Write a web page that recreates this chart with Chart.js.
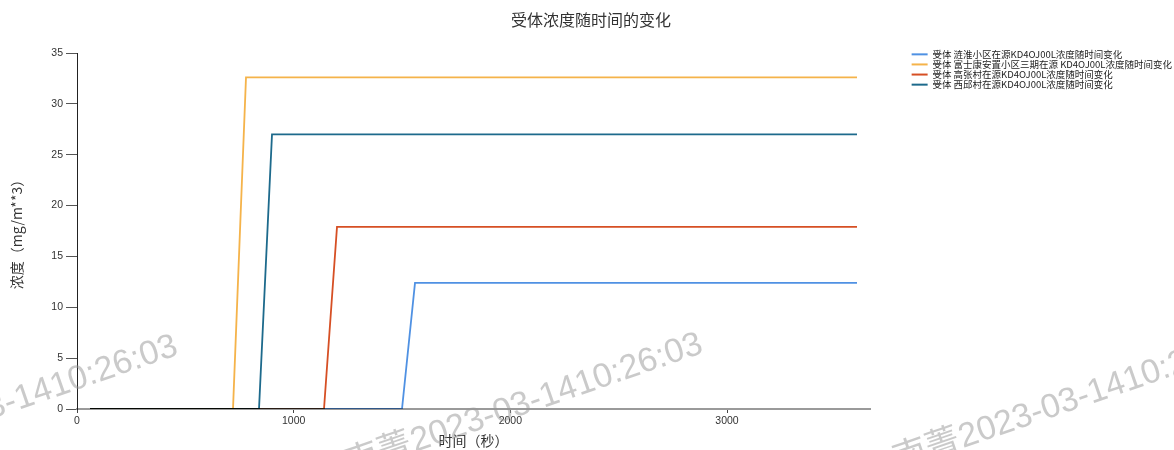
<!DOCTYPE html>
<html>
<head>
<meta charset="utf-8">
<title>受体浓度随时间的变化</title>
<script src="https://cdn.jsdelivr.net/npm/chart.js@4/dist/chart.umd.min.js"></script>
<style>
  html, body { margin: 0; padding: 0; background: #ffffff; }
  #wrap { width: 1174px; height: 450px; position: relative; }
</style>
</head>
<body>
<div id="wrap"><canvas id="chart" width="1174" height="450"></canvas></div>
<script>
// ---- data ----
const seriesNames = [
  '受体 涟淮小区在源KD4OJ00L浓度随时间变化',
  '受体 富士康安置小区三期在源 KD4OJ00L浓度随时间变化',
  '受体 高张村在源KD4OJ00L浓度随时间变化',
  '受体 西邱村在源KD4OJ00L浓度随时间变化'
];
const firstTime = 60;          // 秒
const lastTime = 3600;         // 秒
const riseStartTime = [1500, 720, 1140, 840];
const riseEndTime   = [1560, 780, 1200, 900];
const steadyConc    = [12.4, 32.6, 17.9, 27.0];   // mg/m**3

const xTickValues = [0, 1000, 2000, 3000];
const yTickValues = [0, 5, 10, 15, 20, 25, 30, 35];

const watermarkName = '南菁';
const watermarkStamp = '2023-03-1410:26:03';

// ---- styles ----
const lineColors = ['#4f91e3', '#f5b34a', '#d64f24', '#1d6a8c'];
const cjk = '"Noto Sans CJK SC", "Noto Sans", sans-serif';
const latin = '"Liberation Sans", Arial, sans-serif';
const rightSpace = 304;        // room kept right of the plot for the legend
const legendOverhang = -8;     // legend may run up to the canvas edge

function seriesPoints(i) {
  return [
    { x: firstTime, y: 0 },
    { x: riseStartTime[i], y: 0 },
    { x: riseEndTime[i], y: steadyConc[i] },
    { x: lastTime, y: steadyConc[i] }
  ];
}

const datasets = seriesNames.map((name, i) => ({
  label: name,
  data: seriesPoints(i),
  borderColor: lineColors[i],
  backgroundColor: lineColors[i],
  borderWidth: 1.8,
  pointRadius: 0,
  tension: 0,
  fill: false
}));

// lines blend with each other and with the axis where they overlap
const multiplyLines = {
  id: 'multiplyLines',
  beforeDatasetsDraw(chart) {
    chart.ctx.save();
    chart.ctx.globalCompositeOperation = 'multiply';
  },
  afterDatasetsDraw(chart) {
    chart.ctx.restore();
  }
};

const whiteBackground = {
  id: 'whiteBackground',
  beforeDraw(chart) {
    const ctx = chart.ctx;
    ctx.save();
    ctx.fillStyle = '#ffffff';
    ctx.fillRect(0, 0, chart.width, chart.height);
    ctx.restore();
  }
};

const stampOverlay = {
  id: 'stampOverlay',
  afterDraw(chart) {
    const ctx = chart.ctx;
    const anchors = [[-110, 454], [415, 452], [963, 448]];
    ctx.save();
    ctx.fillStyle = 'rgba(150,150,150,0.5)';
    anchors.forEach(([x, y]) => {
      ctx.save();
      ctx.translate(x, y);
      ctx.rotate(-19 * Math.PI / 180);
      ctx.textBaseline = 'alphabetic';
      ctx.font = '34px ' + latin;
      ctx.textAlign = 'left';
      ctx.fillText(watermarkStamp, 0, 0);
      ctx.font = '34px ' + cjk;
      ctx.textAlign = 'right';
      ctx.fillText(watermarkName, -1, 0);
      ctx.restore();
    });
    ctx.restore();
  }
};

new Chart(document.getElementById('chart'), {
  type: 'line',
  data: { datasets },
  plugins: [whiteBackground, multiplyLines, stampOverlay],
  options: {
    responsive: false,
    animation: false,
    events: [],
    layout: { padding: { left: 0, right: legendOverhang, top: 0, bottom: 0 } },
    plugins: {
      title: {
        display: true,
        text: '受体浓度随时间的变化',
        color: '#333333',
        font: { family: cjk, size: 16, weight: 'normal' },
        padding: { top: 10, bottom: 23.8 }
      },
      legend: {
        position: 'right',
        align: 'start',
        fullSize: true,
        title: {
          display: true,
          text: ' ',
          font: { family: cjk, size: 10 },
          padding: { top: 37, bottom: 0 }
        },
        labels: {
          boxWidth: 16,
          boxHeight: 2,
          padding: 0.6,
          color: '#222222',
          font: { family: cjk, size: 9.5 },
          generateLabels(chart) {
            const items = Chart.defaults.plugins.legend.labels.generateLabels(chart);
            items.forEach(it => { it.lineWidth = 0; it.fillStyle = it.strokeStyle; });
            return items;
          }
        }
      },
      tooltip: { enabled: false }
    },
    scales: {
      x: {
        type: 'linear',
        min: 0,
        max: 3660,
        afterBuildTicks(scale) { scale.ticks = xTickValues.map(v => ({ value: v })); },
        afterFit(scale) { scale.height = 41; },
        grid: { display: true, drawOnChartArea: false, drawTicks: true, tickLength: 4, color: '#444444' },
        border: { display: true, color: '#9a9a9a', width: 2 },
        ticks: {
          color: '#333333', font: { family: latin, size: 10.5 }, padding: 2, maxRotation: 0,
          callback: v => String(v)
        },
        title: {
          display: true,
          text: '时间（秒）',
          color: '#333333',
          font: { family: cjk, size: 14 },
          padding: { top: 0, bottom: 1 }
        }
      },
      y: {
        type: 'linear',
        min: 0,
        max: 35,
        afterBuildTicks(scale) { scale.ticks = yTickValues.map(v => ({ value: v })); },
        afterFit(scale) { scale.width = 77; },
        grid: { display: true, drawOnChartArea: false, drawTicks: true, tickLength: 11, color: '#555555' },
        border: { display: true, color: '#222222', width: 1 },
        ticks: {
          color: '#333333', font: { family: latin, size: 10.5 }, padding: 3,
          callback: v => String(v)
        },
        title: {
          display: true,
          text: '浓度（mg/m**3）',
          color: '#333333',
          font: { family: cjk, size: 14 },
          padding: { top: 8, bottom: 0 }
        }
      },
      // empty spacer between the plot and the legend
      gap: {
        type: 'linear',
        position: 'right',
        display: false,
        afterFit(scale) {
          const legendWidth = scale.chart.legend ? scale.chart.legend.width : 0;
          scale.width = Math.max(0, rightSpace - legendOverhang - legendWidth);
        }
      }
    }
  }
});
</script>
</body>
</html>
